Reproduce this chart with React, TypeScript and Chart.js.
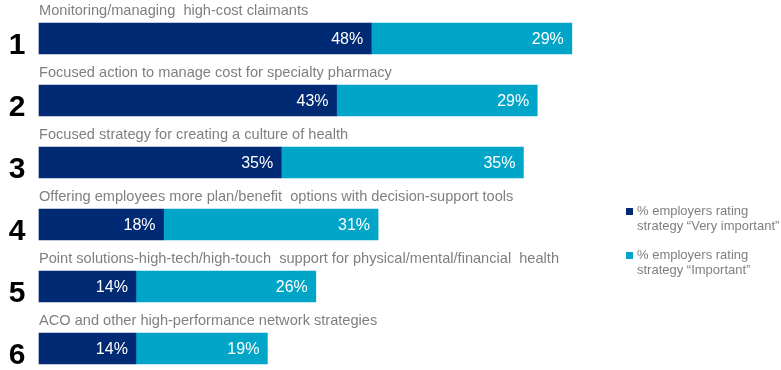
import React, { useEffect, useRef } from "react";
import { Chart, registerables } from "chart.js";

Chart.register(...registerables);

const categories = [
  "Monitoring/managing  high-cost claimants",
  "Focused action to manage cost for specialty pharmacy",
  "Focused strategy for creating a culture of health",
  "Offering employees more plan/benefit  options with decision-support tools",
  "Point solutions-high-tech/high-touch  support for physical/mental/financial  health",
  "ACO and other high-performance network strategies",
];
const ranks = ["1", "2", "3", "4", "5", "6"];
const veryImportant = [48, 43, 35, 18, 14, 14];
const important = [29, 29, 35, 31, 26, 19];
const seriesNames = [
  ["% employers rating", "strategy \u201cVery important\u201d"],
  ["% employers rating", "strategy \u201cImportant\u201d"],
];
const colors = ["#012a74", "#00a5c8"];

const FONT = "'Liberation Sans', Arial, sans-serif";

const overlayPlugin = {
  id: "overlay",
  afterDatasetsDraw(chart: any) {
    const ctx = chart.ctx;
    ctx.save();
    const meta0 = chart.getDatasetMeta(0);
    const meta1 = chart.getDatasetMeta(1);
    meta0.data.forEach((bar: any, i: number) => {
      const top = bar.y - bar.height / 2;
      const bottom = bar.y + bar.height / 2;
      // category label above
      ctx.fillStyle = "#7f7f7f";
      ctx.font = `14.6px ${FONT}`;
      ctx.textAlign = "left";
      ctx.textBaseline = "alphabetic";
      ctx.fillText(categories[i], bar.base, top - 8);
      // rank number
      ctx.fillStyle = "#000000";
      ctx.font = `bold 30px ${FONT}`;
      ctx.textAlign = "center";
      ctx.fillText(ranks[i], 17, bottom);
      // value labels
      ctx.fillStyle = "#ffffff";
      ctx.font = `16px ${FONT}`;
      ctx.textAlign = "right";
      ctx.textBaseline = "middle";
      ctx.fillText(veryImportant[i] + "%", bar.x - 8, bar.y + 1);
      const bar1 = meta1.data[i];
      ctx.fillText(important[i] + "%", bar1.x - 8, bar1.y + 1);
    });
    // legend
    const lx = 626;
    const items = [208, 252];
    items.forEach((y, k) => {
      ctx.fillStyle = colors[k];
      ctx.fillRect(lx, y, 7, 7);
      ctx.fillStyle = "#7f7f7f";
      ctx.font = `13px ${FONT}`;
      ctx.textAlign = "left";
      ctx.textBaseline = "middle";
      ctx.fillText(seriesNames[k][0], lx + 11, y + 3);
      ctx.fillText(seriesNames[k][1], lx + 11, y + 18);
    });
    ctx.restore();
  },
};

export default function App() {
  const ref = useRef<HTMLCanvasElement>(null);
  useEffect(() => {
    document.body.style.margin = "0";
    const chart = new Chart(ref.current!, {
      type: "bar",
      data: {
        labels: categories,
        datasets: [
          {
            label: seriesNames[0].join(" "),
            data: veryImportant,
            backgroundColor: colors[0],
            barThickness: 31,
            clip: false,
          } as any,
          {
            label: seriesNames[1].join(" "),
            data: important,
            backgroundColor: colors[1],
            barThickness: 31,
            clip: false,
          } as any,
        ],
      },
      options: {
        indexAxis: "y",
        responsive: false,
        animation: false,
        events: [],
        layout: { padding: { left: 39, right: 50, top: 38.5, bottom: 21.5 } },
        scales: {
          x: { stacked: true, min: 0, max: 100, display: false },
          y: { stacked: true, display: false, offset: false },
        },
        plugins: { legend: { display: false }, tooltip: { enabled: false } },
      },
      plugins: [overlayPlugin],
    });
    return () => chart.destroy();
  }, []);
  return <canvas ref={ref} width={781} height={370} style={{ display: "block" }} />;
}
